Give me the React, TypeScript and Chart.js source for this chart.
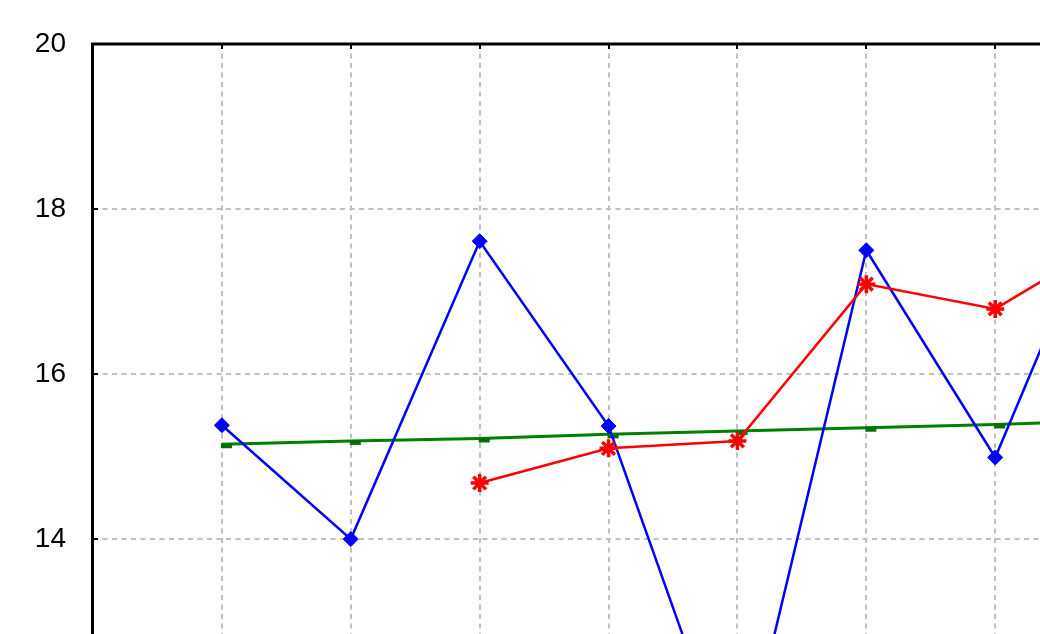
import React, { useEffect, useRef } from "react";
import { Chart, registerables } from "chart.js";

Chart.register(...registerables);

// Data (x positions are 1..8)
const xPositions = [1, 2, 3, 4, 5, 6, 7, 8];
const blueValues = [15.38, 14.0, 17.61, 15.37, 10.97, 17.5, 14.99, 18.7];
const redValues: (number | null)[] = [null, null, 14.68, 15.1, 15.19, 17.09, 16.79, 17.72];
const greenValues = [15.15, 15.19, 15.22, 15.27, 15.31, 15.35, 15.39, 15.44];

const Y_MIN = 10;
const Y_MAX = 20;
const Y_STEP = 2;
const X_MIN = 0;
const X_MAX = 9;

const CANVAS_W = 1253;
const CANVAS_H = 913;

function toPoints(values: (number | null)[]) {
  return xPositions.map((x, i) => ({ x, y: values[i] }));
}

const frameLines = {
  id: "frameLines",
  afterDraw(chart: any) {
    const { ctx, chartArea } = chart;
    const { left, top, right } = chartArea;
    const xs = chart.scales.x;
    const ys = chart.scales.y;
    ctx.save();
    ctx.strokeStyle = "#000000";
    ctx.lineCap = "butt";
    // small inward ticks
    ctx.lineWidth = 2;
    ys.ticks.forEach((t: any) => {
      const py = Math.round(ys.getPixelForValue(t.value));
      ctx.beginPath();
      ctx.moveTo(left, py);
      ctx.lineTo(left + 5, py);
      ctx.stroke();
    });
    xs.ticks.forEach((t: any) => {
      const px = Math.round(xs.getPixelForValue(t.value));
      ctx.beginPath();
      ctx.moveTo(px, top);
      ctx.lineTo(px, top + 5);
      ctx.stroke();
    });
    // frame: left and top
    ctx.lineWidth = 3;
    ctx.beginPath();
    ctx.moveTo(left - 0.5, chart.height);
    ctx.lineTo(left - 0.5, top);
    ctx.lineTo(right, top);
    ctx.stroke();
    ctx.restore();
  },
};

export default function App() {
  const canvasRef = useRef<HTMLCanvasElement | null>(null);

  useEffect(() => {
    const canvas = canvasRef.current;
    if (!canvas) return;

    const marker = document.createElement("canvas");
    marker.width = 24;
    marker.height = 10;
    const mctx = marker.getContext("2d");
    if (mctx) {
      mctx.fillStyle = "#007000";
      mctx.fillRect(11, 4, 11, 5);
    }

    const chart = new Chart(canvas, {
      type: "line",
      data: {
        datasets: [
          {
            label: "red",
            data: toPoints(redValues),
            borderColor: "#ff0000",
            backgroundColor: "#ff0000",
            borderWidth: 2.5,
            pointStyle: "star",
            pointRadius: 9,
            pointBorderWidth: 3.5,
            pointBorderColor: "#ff0000",
            pointBackgroundColor: "#ff0000",
            order: 1,
            spanGaps: false,
          },
          {
            label: "blue",
            data: toPoints(blueValues),
            borderColor: "#0000ff",
            backgroundColor: "#0000ff",
            borderWidth: 2.5,
            pointStyle: "rectRot",
            pointRadius: 7.5,
            pointBorderWidth: 1,
            pointBorderColor: "#0000ff",
            pointBackgroundColor: "#0000ff",
            order: 2,
          },
          {
            label: "green",
            data: toPoints(greenValues),
            borderColor: "#008000",
            backgroundColor: "#008000",
            borderWidth: 3,
            pointStyle: marker as any,
            pointRadius: 6,
            order: 3,
          },
        ],
      },
      options: {
        responsive: false,
        animation: false,
        devicePixelRatio: 1,
        layout: { autoPadding: false, padding: { left: 0, top: 44, right: 0, bottom: 0 } },
        plugins: {
          legend: { display: false },
          tooltip: { enabled: false },
        },
        elements: { line: { tension: 0 } },
        scales: {
          x: {
            type: "linear",
            min: X_MIN,
            max: X_MAX,
            ticks: { display: false, stepSize: 1 },
            grid: {
              color: "#c0c0c0",
              lineWidth: 2,
              drawTicks: false,
            },
            border: { display: false, dash: [5, 4.5] },
            afterFit: (scale: any) => {
              scale.height = 31;
            },
          },
          y: {
            type: "linear",
            min: Y_MIN,
            max: Y_MAX,
            ticks: {
              stepSize: Y_STEP,
              padding: 27,
              color: "#000000",
              font: { family: "'Liberation Sans', Arial, sans-serif", size: 28 },
            },
            grid: {
              color: "#c0c0c0",
              lineWidth: 2,
              drawTicks: false,
            },
            border: { display: false, dash: [5, 4.5] },
            afterFit: (scale: any) => {
              scale.width = 93;
            },
          },
        },
      },
      plugins: [frameLines],
    });

    return () => {
      chart.destroy();
    };
  }, []);

  return (
    <div
      style={{
        position: "fixed",
        left: 0,
        top: 0,
        width: 1040,
        height: 634,
        overflow: "hidden",
        background: "#ffffff",
      }}
    >
      <canvas
        ref={canvasRef}
        width={CANVAS_W}
        height={CANVAS_H}
        style={{ display: "block", width: CANVAS_W, height: CANVAS_H }}
      />
    </div>
  );
}
